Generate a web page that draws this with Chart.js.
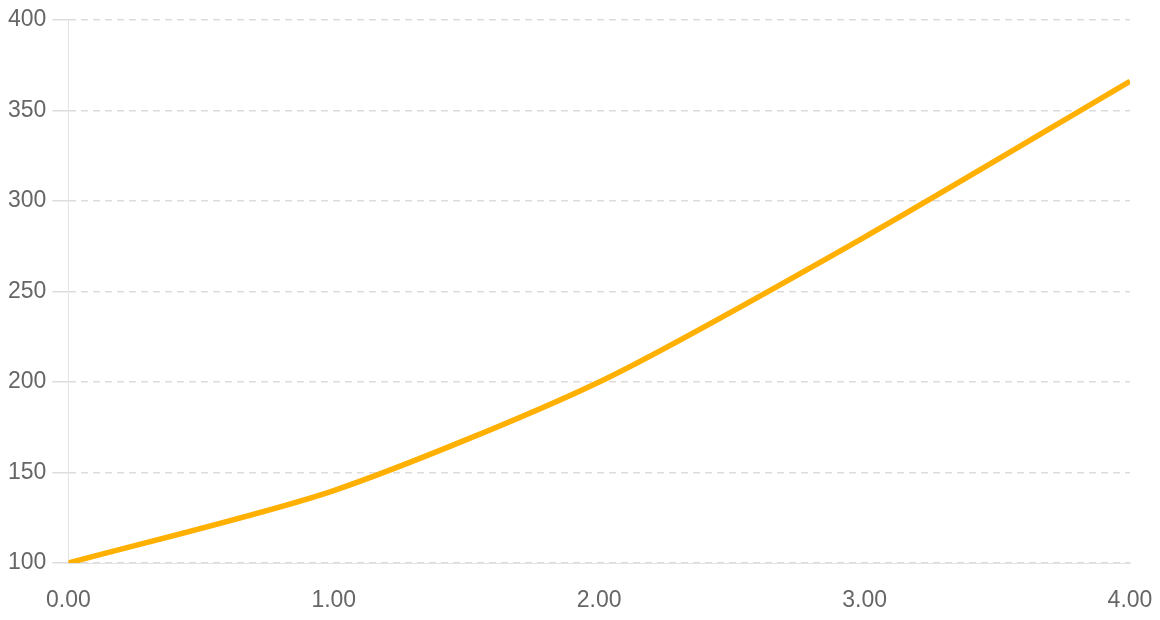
<!DOCTYPE html>
<html>
<head>
<meta charset="utf-8">
<script src="https://cdn.jsdelivr.net/npm/chart.js@4"></script>
<style>
  html, body { margin: 0; padding: 0; background: #fff; }
  #wrap { width: 1160px; height: 620px; }
</style>
</head>
<body>
<div id="wrap"><canvas id="lineChart" width="1160" height="620"></canvas></div>
<script>
// данные графика
const xValues = [0, 1, 2, 3, 4];
const yValues = [100, 140, 200, 280, 366];
const yTicks = [100, 150, 200, 250, 300, 350, 400];

const points = xValues.map((x, i) => ({ x: x, y: yValues[i] }));

const ctx = document.getElementById('lineChart').getContext('2d');
new Chart(ctx, {
  type: 'line',
  data: {
    datasets: [{
      data: points,
      borderColor: '#ffb000',
      borderWidth: 5.5,
      pointRadius: 0,
      tension: 0.25,
      fill: false
    }]
  },
  options: {
    responsive: false,
    animation: false,
    layout: { padding: { top: 5, right: 30, left: 2, bottom: 5 } },
    plugins: {
      legend: { display: false },
      tooltip: { enabled: false }
    },
    scales: {
      x: {
        type: 'linear',
        min: 0,
        max: 4,
        afterFit: axis => { axis.height = 52; },
        ticks: {
          stepSize: 1,
          color: '#666',
          font: { family: 'Liberation Sans', size: 23 },
          padding: 0,
          callback: v => Number(v).toFixed(2)
        },
        // засечки прозрачные, нужны только для отступа подписей
        grid: {
          display: true,
          drawOnChartArea: false,
          drawTicks: true,
          tickLength: 24,
          tickColor: 'rgba(0,0,0,0)'
        },
        border: { display: true, color: '#e3e3e3', width: 1 }
      },
      y: {
        min: 100,
        max: 400,
        afterBuildTicks: axis => { axis.ticks = yTicks.map(v => ({ value: v })); },
        ticks: {
          color: '#666',
          font: { family: 'Liberation Sans', size: 23 },
          padding: 6
        },
        grid: {
          color: '#dcdcdc',
          lineWidth: 1.5,
          tickLength: 16,
          tickBorderDash: [],
          drawTicks: true
        },
        border: { display: true, color: '#e3e3e3', dash: [7, 5] }
      }
    }
  }
});
</script>
</body>
</html>
